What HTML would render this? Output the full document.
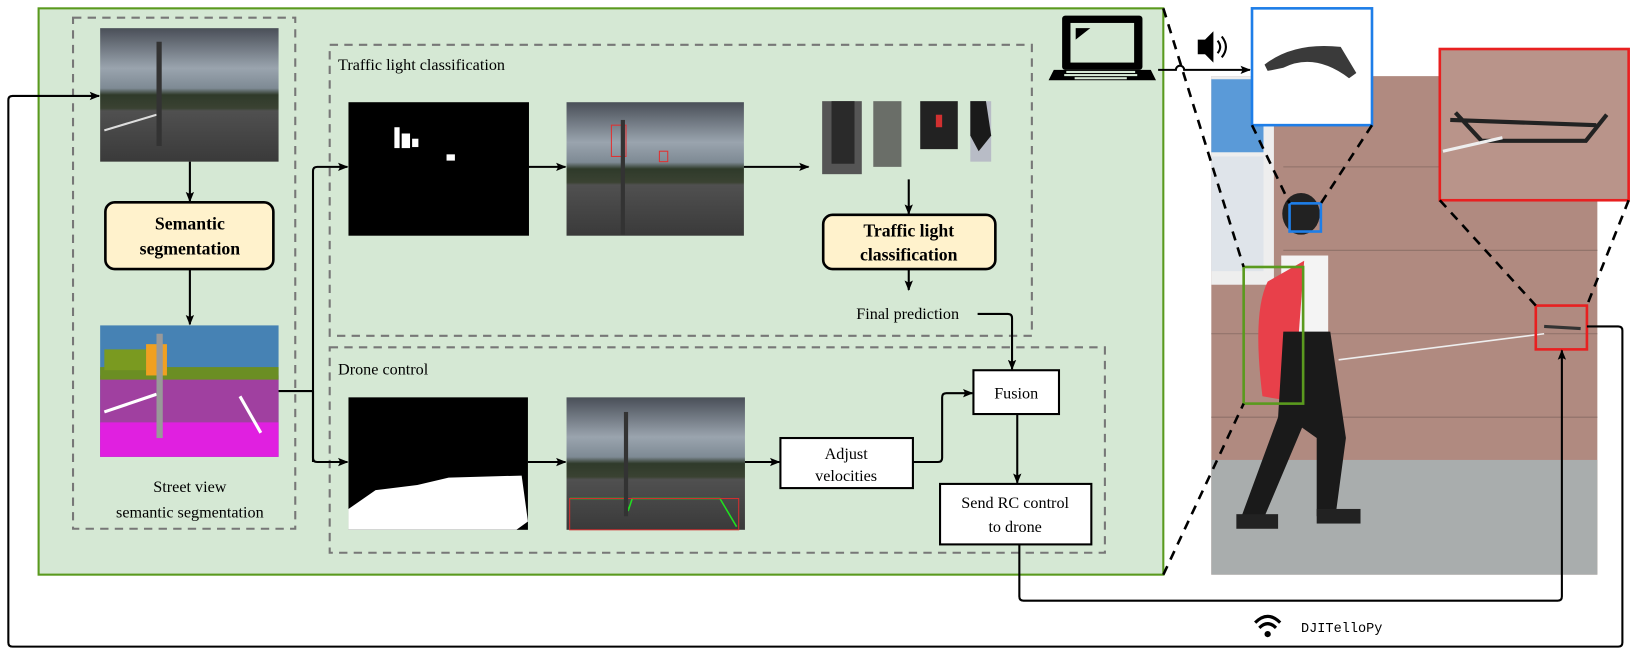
<!DOCTYPE html>
<html><head><meta charset="utf-8"><style>
html,body{margin:0;padding:0;background:#fff;}
svg{display:block;}
text{font-family:"Liberation Serif",serif;fill:#000;}
</style></head><body>
<svg width="1637" height="656" viewBox="0 0 1569 629" preserveAspectRatio="none" xmlns="http://www.w3.org/2000/svg">
<defs>
<marker id="ah" markerWidth="10" markerHeight="10" refX="9" refY="5" orient="auto" markerUnits="userSpaceOnUse">
<path d="M0,1 L10,5 L0,9 L2,5 Z" fill="#000"/></marker>
<linearGradient id="sky" x1="0" y1="0" x2="0" y2="1"><stop offset="0" stop-color="#4a4f58"/><stop offset="0.3" stop-color="#9aa4ae"/><stop offset="0.45" stop-color="#7e8a94"/><stop offset="0.5" stop-color="#2f3a2a"/><stop offset="0.6" stop-color="#3a4232"/><stop offset="0.62" stop-color="#505050"/><stop offset="1" stop-color="#3a3a3a"/></linearGradient>
</defs>
<!-- green panel -->
<rect x="37" y="8" width="1078" height="543" fill="#d5e8d4" stroke="#5a9a1e" stroke-width="2"/>
<!-- dashed boxes -->
<g fill="none" stroke="#777" stroke-width="2" stroke-dasharray="8,6">
<rect x="70" y="17" width="213" height="490"/>
<rect x="316" y="43" width="673" height="279"/>
<rect x="316" y="333" width="743" height="197"/>
</g>
<!-- left column -->
<rect x="96" y="27" width="171" height="128" fill="url(#sky)"/>
<path d="M100,125 L150,110" stroke="#ddd" stroke-width="2"/>
<rect x="150" y="40" width="5" height="100" fill="#333"/>
<rect x="96" y="312" width="171" height="126" fill="#4682b4"/>
<rect x="96" y="360" width="171" height="78" fill="#a040a0"/>
<rect x="96" y="405" width="171" height="33" fill="#e020e0"/>
<rect x="96" y="352" width="171" height="12" fill="#6b8e23"/>
<rect x="100" y="335" width="40" height="20" fill="#7a9a20"/>
<path d="M100,395 L150,378 M230,380 L250,415" stroke="#fff" stroke-width="3"/>
<rect x="140" y="330" width="20" height="30" fill="#f0a020"/>
<rect x="150" y="320" width="6" height="100" fill="#999"/>
<rect x="101" y="194" width="161" height="64" rx="9" fill="#fff2cc" stroke="#000" stroke-width="2.5"/>
<text x="182" y="220" font-size="17" font-weight="bold" text-anchor="middle">Semantic</text>
<text x="182" y="244" font-size="17" font-weight="bold" text-anchor="middle">segmentation</text>
<text x="182" y="472" font-size="15.5" text-anchor="middle">Street view</text>
<text x="182" y="496" font-size="15.5" text-anchor="middle">semantic segmentation</text>
<!-- traffic light section -->
<text x="324" y="67" font-size="15.5">Traffic light classification</text>
<rect x="334" y="98" width="173" height="128" fill="#000"/>
<rect x="378" y="122" width="5" height="20" fill="#fff"/><rect x="385" y="128" width="8" height="14" fill="#fff"/><rect x="395" y="133" width="6" height="8" fill="#fff"/><rect x="428" y="148" width="8" height="6" fill="#fff"/>
<rect x="543" y="98" width="170" height="128" fill="url(#sky)"/>
<rect x="586" y="120" width="14" height="30" fill="none" stroke="#e03030" stroke-width="1"/><rect x="632" y="145" width="8" height="10" fill="none" stroke="#e03030" stroke-width="1"/>
<rect x="595" y="115" width="4" height="110" fill="#333"/>
<rect x="788" y="97" width="38" height="70" fill="#555"/><rect x="797" y="97" width="22" height="60" fill="#2a2a2a"/>
<rect x="837" y="97" width="27" height="63" fill="#6a6e68"/>
<rect x="882" y="97" width="36" height="46" fill="#222"/><rect x="897" y="110" width="6" height="12" fill="#d03030"/>
<rect x="930" y="97" width="20" height="58" fill="#b8bcc6"/><path d="M930,97 L945,97 L950,130 L938,145 L930,130Z" fill="#1a1a1a"/>
<rect x="789" y="206" width="165" height="52" rx="9" fill="#fff2cc" stroke="#000" stroke-width="2.5"/>
<text x="871" y="227" font-size="17" font-weight="bold" text-anchor="middle">Traffic light</text>
<text x="871" y="250" font-size="17" font-weight="bold" text-anchor="middle">classification</text>
<text x="870" y="306" font-size="15.5" text-anchor="middle">Final prediction</text>
<!-- drone control -->
<text x="324" y="359" font-size="15.5">Drone control</text>
<rect x="334" y="381" width="172" height="127" fill="#000"/>
<path d="M334,508 L334,488 L360,470 L400,465 L430,458 L500,456 L506,500 L495,508 Z" fill="#fff"/>
<rect x="543" y="381" width="171" height="127" fill="url(#sky)"/>
<path d="M546,478 L600,478 L602,490 L606,478 L690,478 L706,505" fill="none" stroke="#20e020" stroke-width="1.5"/>
<rect x="546" y="478" width="162" height="30" fill="none" stroke="#d03030" stroke-width="1"/>
<rect x="598" y="395" width="4" height="100" fill="#333"/>
<rect x="748" y="420" width="127" height="48" fill="#fff" stroke="#000" stroke-width="2"/>
<text x="811" y="440" font-size="15.5" text-anchor="middle">Adjust</text>
<text x="811" y="461" font-size="15.5" text-anchor="middle">velocities</text>
<rect x="933" y="355" width="82" height="42" fill="#fff" stroke="#000" stroke-width="2"/>
<text x="974" y="382" font-size="15.5" text-anchor="middle">Fusion</text>
<rect x="901" y="464" width="145" height="58" fill="#fff" stroke="#000" stroke-width="2"/>
<text x="973" y="487" font-size="15.5" text-anchor="middle">Send RC control</text>
<text x="973" y="510" font-size="15.5" text-anchor="middle">to drone</text>
<!-- laptop -->
<rect x="1018" y="15" width="77" height="52" rx="3" fill="#000"/>
<rect x="1026" y="22" width="61" height="38" fill="#d5e8d4"/>
<path d="M1031,27 L1045,27 L1031,38Z" fill="#000"/>
<path d="M1010,67 L1103,67 L1108,77 L1005,77Z" fill="#000"/>
<g fill="#d5e8d4"><rect x="1022" y="68" width="66" height="2"/><rect x="1020" y="71" width="70" height="2"/><rect x="1030" y="74" width="50" height="2"/></g>
<!-- right photo -->
<rect x="1161" y="73" width="370" height="478" fill="#b08a80"/>
<rect x="1161" y="73" width="60" height="200" fill="#eee"/>
<rect x="1161" y="76" width="50" height="70" fill="#5a9ad8"/>
<rect x="1161" y="150" width="50" height="110" fill="#dfe4ea"/>
<rect x="1161" y="441" width="370" height="110" fill="#a9adad"/>
<g stroke="#8e7068" stroke-width="1"><line x1="1230" y1="160" x2="1531" y2="160"/><line x1="1230" y1="240" x2="1531" y2="240"/><line x1="1161" y1="320" x2="1531" y2="320"/><line x1="1161" y1="400" x2="1531" y2="400"/></g>
<!-- person -->
<ellipse cx="1247" cy="205" rx="18" ry="20" fill="#222"/>
<rect x="1228" y="245" width="45" height="75" fill="#f4f4f4"/>
<path d="M1215,270 Q1200,300 1210,380 L1240,385 L1250,250Z" fill="#e8404a"/>
<path d="M1230,318 L1275,318 L1290,420 L1280,495 L1262,495 L1262,420 L1248,410 L1210,500 L1190,495 L1225,400Z" fill="#1a1a1a"/>
<rect x="1185" y="493" width="40" height="14" fill="#222"/><rect x="1262" y="488" width="42" height="14" fill="#222"/>
<path d="M1283,345 Q1400,330 1480,320" stroke="#eee" stroke-width="1.5" fill="none"/>
<!-- blue inset -->
<rect x="1200" y="8" width="115" height="112" fill="#fff" stroke="#1e7ee8" stroke-width="2.5"/>
<path d="M1212,62 Q1240,40 1285,45 L1300,70 L1293,75 Q1260,50 1230,65 L1215,68Z" fill="#3a3a3a"/>
<rect x="1236" y="195" width="30" height="27" fill="none" stroke="#1e7ee8" stroke-width="2.5"/>
<rect x="1192" y="256" width="57" height="131" fill="none" stroke="#5a9a1e" stroke-width="2.5"/>
<!-- red inset -->
<rect x="1380" y="47" width="181" height="145" fill="#b9948a" stroke="#e82020" stroke-width="2.5"/>
<path d="M1390,115 L1530,120 M1395,108 L1420,135 L1520,135 L1540,110" stroke="#222" stroke-width="4" fill="none"/>
<path d="M1383,145 L1440,132" stroke="#eee" stroke-width="3"/>
<rect x="1472" y="293" width="49" height="42" fill="none" stroke="#e82020" stroke-width="2.5"/>
<path d="M1480,313 L1515,315" stroke="#333" stroke-width="3"/>
<!-- speaker -->
<path d="M1148,38 L1155,38 L1163,30 L1163,60 L1155,52 L1148,52Z" fill="#000"/>
<path d="M1167,39 Q1172,45 1167,51 M1171,35 Q1179,45 1171,55" stroke="#000" stroke-width="2" fill="none"/>
<!-- dashed zoom lines -->
<g stroke="#000" stroke-width="2.5" stroke-dasharray="9,7" fill="none">
<line x1="1115" y1="8" x2="1192" y2="256"/><line x1="1115" y1="551" x2="1192" y2="387"/>
<line x1="1200" y1="120" x2="1236" y2="195"/><line x1="1315" y1="120" x2="1266" y2="195"/>
<line x1="1380" y1="192" x2="1472" y2="293"/><line x1="1561" y1="192" x2="1521" y2="293"/>
</g>
<!-- connectors -->
<g stroke="#000" stroke-width="2" fill="none">
<line x1="182" y1="155" x2="182" y2="193" marker-end="url(#ah)"/>
<line x1="182" y1="258" x2="182" y2="311" marker-end="url(#ah)"/>
<path d="M267,375 L300,375"/>
<path d="M300,443 L300,164 Q300,160 304,160 L333,160" marker-end="url(#ah)"/>
<path d="M300,375 L300,439 Q300,443 304,443 L333,443" marker-end="url(#ah)"/>
<line x1="507" y1="160" x2="542" y2="160" marker-end="url(#ah)"/>
<line x1="713" y1="160" x2="775" y2="160" marker-end="url(#ah)"/>
<line x1="871" y1="172" x2="871" y2="205" marker-end="url(#ah)"/>
<line x1="871" y1="258" x2="871" y2="278" marker-end="url(#ah)"/>
<path d="M937,301 L966,301 Q970,301 970,305 L970,354" marker-end="url(#ah)"/>
<line x1="506" y1="443" x2="542" y2="443" marker-end="url(#ah)"/>
<line x1="714" y1="443" x2="747" y2="443" marker-end="url(#ah)"/>
<path d="M875,443 L899,443 Q903,443 903,439 L903,381 Q903,377 907,377 L932,377" marker-end="url(#ah)"/>
<line x1="975" y1="397" x2="975" y2="463" marker-end="url(#ah)"/>
<path d="M977,522 L977,572 Q977,576 981,576 L1493,576 Q1497,576 1497,572 L1497,336" marker-end="url(#ah)"/>
<path d="M1521,313 L1551,313 Q1555,313 1555,317 L1555,616 Q1555,620 1551,620 L12,620 Q8,620 8,616 L8,96 Q8,92 12,92 L95,92" marker-end="url(#ah)"/>
<path d="M1110,67 L1127,67 A4,4 0 0 1 1135,67 L1198,67" marker-end="url(#ah)"/>
</g>
<!-- wifi -->
<g fill="none" stroke="#000" stroke-width="3">
<path d="M1203,597 Q1215,585 1227,597"/><path d="M1207,602 Q1215,594 1223,602"/>
</g>
<circle cx="1215" cy="608" r="3" fill="#000"/>
<text x="1247" y="606" font-size="13" style="font-family:'Liberation Mono',monospace" fill="#333">DJITelloPy</text>
</svg>
</body></html>
